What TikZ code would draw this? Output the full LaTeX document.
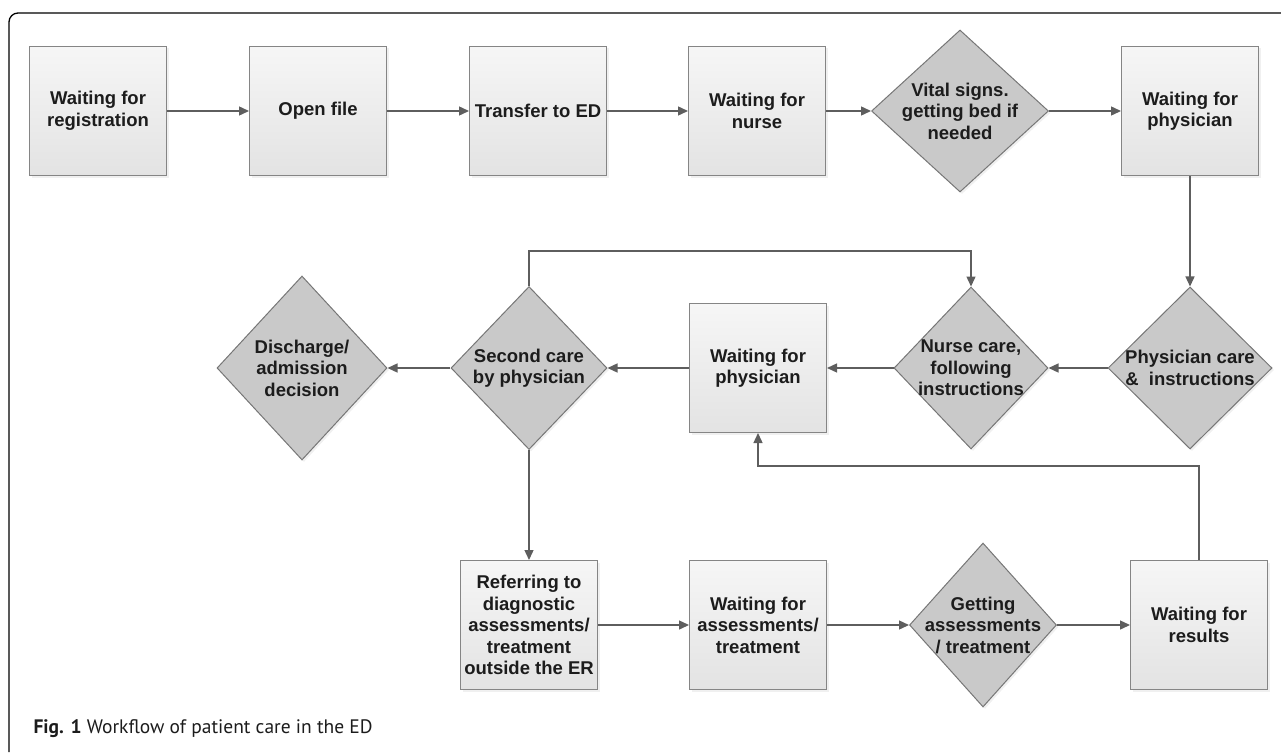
\documentclass[tikz,border=0pt]{standalone}
\usepackage{fontspec}
\setmainfont{Liberation Sans}
\newfontfamily\capfont{PT Sans}
\usepackage{tikz}
\usetikzlibrary{arrows.meta,positioning,calc,shapes.geometric,shadows}
\definecolor{boxtop}{HTML}{F6F6F6}
\definecolor{boxbot}{HTML}{E3E3E3}
\definecolor{boxline}{HTML}{858585}
\definecolor{diafill}{HTML}{C9C9C9}
\definecolor{dialine}{HTML}{767676}
\definecolor{flowc}{HTML}{5E5E5E}
\definecolor{txtc}{HTML}{1C1C1C}

\begin{document}
\begin{tikzpicture}[x=1pt,y=-1pt,
    box/.style={rectangle,draw=boxline,line width=1pt,top color=boxtop,bottom color=boxbot,
      minimum width=137pt,minimum height=129pt,inner sep=0pt,align=center,text=txtc,
      font=\bfseries\fontsize{18.5}{21.5}\selectfont,
      drop shadow={opacity=0.12,shadow xshift=2pt,shadow yshift=-2pt}},
    dia/.style={diamond,draw=dialine,line width=1pt,fill=diafill,inner sep=-8pt,align=center,text=txtc,
      font=\bfseries\fontsize{18.5}{21.5}\selectfont,
      drop shadow={opacity=0.12,shadow xshift=2pt,shadow yshift=-2pt}},
    flow/.style={draw=flowc,line width=1.4pt,-{Triangle[length=10pt,width=9pt]}}]
  \useasboundingbox (0,0) rectangle (1281,752);
  % frame
  \draw[line width=1.3pt,rounded corners=9pt] (1281,13) -- (9,13) -- (9,752);
  % boxes
  \foreach \nm/\x/\y/\lab in {reg/98/111/{Waiting for\\registration}, open/318/111/{Open file},
      transfer/538/111/{Transfer to ED}, wnurse/757/111/{Waiting for\\nurse},
      wphys/1190/111/{Waiting for\\physician}, wphystwo/758/368/{Waiting for\\physician},
      refer/529/625/{Referring to\\diagnostic\\assessments/\\treatment\\outside the ER},
      wassess/758/625/{Waiting for\\assessments/\\treatment}, wresults/1199/625/{Waiting for\\results}} {
    \node[box] (\nm) at (\x,\y) {\lab};
  }
  % decisions
  \node[dia,minimum width=177pt,minimum height=162pt] (vital) at (960,111) {Vital signs.\\getting bed if\\needed};
  \node[dia,minimum width=164pt,minimum height=162pt] (phcare) at (1190,368) {Physician care\\\&\ \ instructions};
  \node[dia,minimum width=154pt,minimum height=162pt] (nurse) at (971,368) {Nurse care,\\following\\instructions};
  \node[dia,minimum width=156pt,minimum height=163pt] (second) at (529,368) {Second care\\by physician};
  \node[dia,minimum width=170pt,minimum height=184pt] (discharge) at (302,368) {Discharge/\\admission\\decision};
  \node[dia,minimum width=147pt,minimum height=164pt] (getting) at (983,625) {Getting\\assessments\\/ treatment};
  % connectors
  \foreach \a/\b in {reg/open, open/transfer, transfer/wnurse, wnurse/vital, vital/wphys,
      wphys/phcare, phcare/nurse, nurse/wphystwo, wphystwo/second, second/discharge,
      second/refer, refer/wassess, wassess/getting, getting/wresults} {
    \draw[flow] (\a) -- (\b);
  }
  \draw[flow] (second.north) -- ++(0,-35) -| (nurse.north);
  \draw[flow] (wresults.north) -- ++(0,-94) -| (wphystwo.south);
  % caption
  \node[anchor=west,font=\capfont\fontsize{19.5}{23}\selectfont,text=txtc] (cap) at (30,729)
    {\textbf{Fig. 1} Workflow of patient care in the ED};
\end{tikzpicture}
\end{document}
